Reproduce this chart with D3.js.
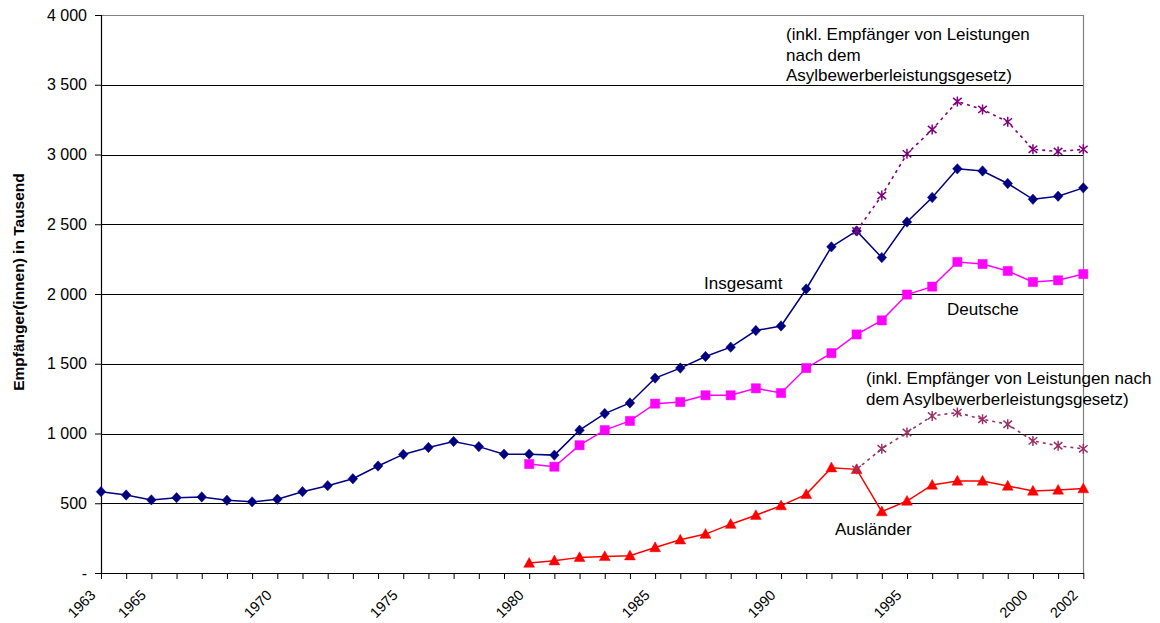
<!DOCTYPE html>
<html lang="de">
<head>
<meta charset="utf-8">
<script src="https://cdn.jsdelivr.net/npm/d3@7/dist/d3.min.js"></script>
<style>
  html, body { margin: 0; padding: 0; background: #fff; }
  svg { display: block; font-family: "Liberation Sans", Arial, sans-serif; }
</style>
</head>
<body>
<svg id="chart" width="1160" height="623"></svg>
<script>
// Jahre 1963–2002
const years = d3.range(1963, 2003);
// nur diese Jahre erhalten eine Beschriftung an der x-Achse
const labeledYears = [1963, 1965, 1970, 1975, 1980, 1985, 1990, 1995, 2000, 2002];
const yTicks = [0, 500, 1000, 1500, 2000, 2500, 3000, 3500, 4000];

// Empfänger(innen) in Tausend
const insgesamt = [583, 559, 524, 540, 545, 521, 510, 529, 583, 626,
                   676, 767, 850, 900, 943, 906, 852, 852, 845, 1024,
                   1143, 1219, 1397, 1469, 1552, 1619, 1738, 1771, 2036, 2338,
                   2452, 2261, 2516, 2692, 2897, 2882, 2792, 2679, 2701, 2761];
const deutscheYears = d3.range(1980, 2003);
const deutsche = [781, 762, 916, 1024, 1090, 1214, 1226, 1274, 1274, 1324,
                  1290, 1469, 1576, 1710, 1811, 1996, 2053, 2230, 2215, 2165,
                  2086, 2098, 2143];
const auslaender = [71, 88, 112, 119, 124, 183, 238, 279, 350, 414,
                    483, 564, 755, 743, 440, 516, 631, 660, 660, 624,
                    588, 595, 605];
// einschließlich Asylbewerberleistungsgesetz, ab 1993
const asylYears = d3.range(1993, 2003);
const insgesamtInklAsyl = [2452, 2706, 3005, 3179, 3380, 3323, 3234, 3037, 3022, 3037];
const auslaenderInklAsyl = [743, 891, 1007, 1126, 1150, 1102, 1066, 947, 912, 890];

const svg = d3.select("#chart");
const plotLeft = 101, plotRight = 1083.3, plotTop = 15, plotBottom = 573;

const x = d3.scalePoint().domain(years).range([plotLeft, plotRight]);
const y = d3.scaleLinear().domain([0, 4000]).range([plotBottom, plotTop]);

const de = d3.formatLocale({ decimal: ",", thousands: " ", grouping: [3], currency: ["", " €"] });
const fmt = de.format(",d");

// Gitternetzlinien
svg.append("g")
  .selectAll("line")
  .data(yTicks.filter(v => v > 0 && v < 4000))
  .join("line")
  .attr("x1", plotLeft).attr("x2", plotRight)
  .attr("y1", d => Math.round(y(d)) + 0.5).attr("y2", d => Math.round(y(d)) + 0.5)
  .attr("stroke", "#000").attr("stroke-width", 1);

// Rahmen der Zeichenfläche (oben, rechts)
svg.append("path")
  .attr("d", `M${plotLeft},${Math.round(y(4000)) + 0.5}H${Math.round(plotRight) + 0.5}V${plotBottom}`)
  .attr("fill", "none").attr("stroke", "#808080").attr("stroke-width", 1.2);

// y-Achse
const yAxis = svg.append("g")
  .attr("transform", `translate(${plotLeft},0)`)
  .call(d3.axisLeft(y).tickValues(yTicks).tickSize(6).tickPadding(8)
        .tickFormat(d => d === 0 ? "-" : fmt(d)));
yAxis.select(".domain").attr("stroke", "#000").attr("stroke-width", 1.2);
yAxis.selectAll(".tick line").attr("stroke", "#000");
yAxis.selectAll(".tick text")
  .attr("font-size", 16).attr("fill", "#000")
  .attr("font-family", "'Liberation Sans', Arial, sans-serif");

// x-Achse
const xAxis = svg.append("g")
  .attr("transform", `translate(0,${plotBottom})`)
  .call(d3.axisBottom(x).tickValues(years).tickSize(6).tickSizeOuter(0)
        .tickFormat(d => labeledYears.includes(d) ? String(d) : ""));
xAxis.select(".domain").attr("stroke", "#000").attr("stroke-width", 1.2);
xAxis.selectAll(".tick line").attr("stroke", "#000");
xAxis.selectAll(".tick text")
  .attr("font-size", 14.5).attr("fill", "#000")
  .attr("font-family", "'Liberation Sans', Arial, sans-serif")
  .attr("text-anchor", "end")
  .attr("x", 0).attr("y", 0).attr("dy", 0)
  .attr("transform", "translate(-5,23) rotate(-45)");

// Achsentitel
svg.append("text")
  .attr("transform", "translate(24,282) rotate(-90)")
  .attr("text-anchor", "middle")
  .attr("font-size", 15.5).attr("font-weight", "bold")
  .text("Empfänger(innen) in Tausend");

// Datenreihen
function series(xs, vs, color, dashed) {
  const pts = xs.map((yr, i) => [x(yr), y(vs[i])]);
  svg.append("path")
    .datum(pts)
    .attr("d", d3.line())
    .attr("fill", "none")
    .attr("stroke", color)
    .attr("stroke-width", dashed ? 1.6 : 1.5)
    .attr("stroke-dasharray", dashed ? "3,4" : null);
  return pts;
}

const diamond = "M0,-5.2L4.8,0L0,5.2L-4.8,0Z";
const square = "M-4.6,-4.6H4.6V4.6H-4.6Z";
const triangle = "M0,-5.6L5.4,4.2L-5.4,4.2Z";
const star = "M0,-5V5M-4.3,-3.6L4.3,3.6M-4.3,3.6L4.3,-3.6";

function markers(pts, shape, color, stroked) {
  svg.append("g")
    .selectAll("path")
    .data(pts)
    .join("path")
    .attr("transform", d => `translate(${d[0]},${d[1]})`)
    .attr("d", shape)
    .attr("fill", stroked ? "none" : color)
    .attr("stroke", color)
    .attr("stroke-width", stroked ? 1.5 : 0.5);
}

const pIns = series(years, insgesamt, "#000080", false);
markers(pIns, diamond, "#000080", false);
const pDe = series(deutscheYears, deutsche, "#FF00FF", false);
markers(pDe, square, "#FF00FF", false);
const pAus = series(deutscheYears, auslaender, "#FF0000", false);
markers(pAus, triangle, "#FF0000", false);
const pInsA = series(asylYears, insgesamtInklAsyl, "#800080", true);
markers(pInsA, star, "#800080", true);
const pAusA = series(asylYears, auslaenderInklAsyl, "#993366", true);
markers(pAusA, star, "#993366", true);

// Beschriftungen
const labelFont = 17;
function note(lines, x0, y0, lh) {
  const t = svg.append("text")
    .attr("font-size", labelFont).attr("fill", "#000");
  lines.forEach((s, i) => {
    t.append("tspan").attr("x", x0).attr("y", y0 + i * lh).text(s);
  });
}
note(["(inkl. Empfänger von Leistungen", "nach dem", "Asylbewerberleistungsgesetz)"], 786, 40, 20.7);
note(["Insgesamt"], 704, 289, 0);
note(["Deutsche"], 947, 315, 0);
note(["(inkl. Empfänger von Leistungen nach", "dem Asylbewerberleistungsgesetz)"], 866, 384, 21);
note(["Ausländer"], 835, 535, 0);
</script>
</body>
</html>
